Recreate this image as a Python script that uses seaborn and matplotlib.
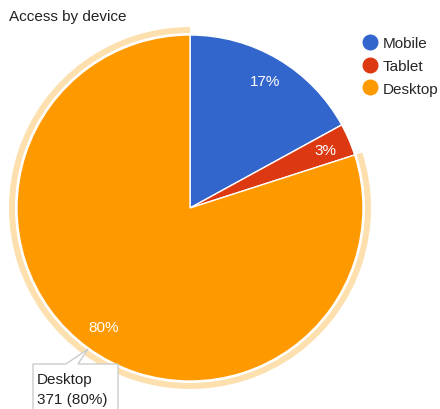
"""Pie chart of site access by device type."""

import matplotlib

matplotlib.use("Agg")
import matplotlib.pyplot as plt
import seaborn as sns
from matplotlib.lines import Line2D
from matplotlib.patches import Polygon, Wedge

devices = ["Mobile", "Tablet", "Desktop"]
visits = [79, 14, 371]
colors = ["#3366cc", "#dc3912", "#ff9900"]
highlight = "Desktop"

W, H = 440, 410
CX, CY, R = 190, 410 - 209, 173

sns.set_theme(style="white")
plt.rcParams["font.family"] = ["Liberation Sans", "DejaVu Sans"]

fig = plt.figure(figsize=(W / 100, H / 100), dpi=100)
ax = fig.add_axes((0, 0, 1, 1))

total = sum(visits)
wedges, _, autotexts = ax.pie(
    visits,
    colors=colors,
    startangle=90,
    counterclock=False,
    center=(CX, CY),
    radius=R,
    autopct=lambda p: f"{p:.0f}%",
    pctdistance=0.85,
    wedgeprops={"edgecolor": "white", "linewidth": 1},
    textprops={"color": "white", "fontsize": 11},
    frame=True,
)
ax.set_xlim(0, W)
ax.set_ylim(0, H)
ax.set_aspect("equal")
ax.axis("off")

# light halo around the selected slice
hw = wedges[devices.index(highlight)]
ax.add_patch(
    Wedge((CX, CY), R + 8, hw.theta1, hw.theta2, width=6,
          facecolor="#fde0ae", edgecolor="none", zorder=0)
)

ax.text(9, H - 17, "Access by device", fontsize=11, color="#222222",
        va="center", ha="left")

handles = [
    Line2D([], [], marker="o", linestyle="none", markersize=10.5,
           markerfacecolor=c, markeredgecolor=c)
    for c in colors
]
ax.legend(handles, devices, loc="upper left", bbox_to_anchor=(355 / W, 1 - 31 / H),
          frameon=False, fontsize=11, handletextpad=0.2, labelspacing=0.58,
          borderaxespad=0, handlelength=1.2)

# tooltip for the selected slice
i = devices.index(highlight)
pts = [(33, 365), (66, 365), (88, 350), (78, 365), (118, 365), (118, 415), (33, 415)]
ax.add_patch(Polygon([(x, H - y) for x, y in pts], closed=True,
                     facecolor="white", edgecolor="#cccccc", linewidth=1, zorder=5))
ax.text(37, H - 380, highlight, fontsize=11, color="#222222",
        va="center", ha="left", zorder=6)
ax.text(37, H - 400, f"{visits[i]} ({visits[i] / total * 100:.0f}%)",
        fontsize=11, color="#222222", va="center", ha="left", zorder=6)

fig.savefig("out.png", dpi=100)
